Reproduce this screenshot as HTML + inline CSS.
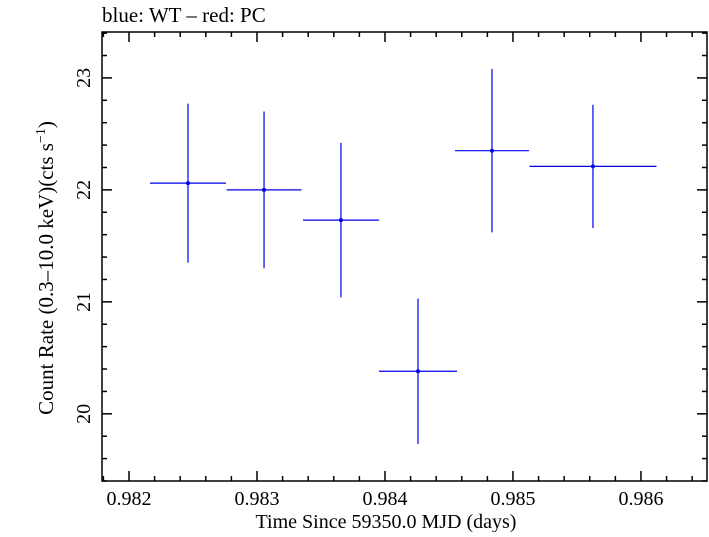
<!DOCTYPE html>
<html><head><meta charset="utf-8"><style>
body{margin:0;background:#fff;}
svg text{font-family:"Liberation Serif",serif;fill:#000;}
</style></head><body>
<svg id="c" width="709" height="532"></svg>
<script>
const times=[0.982461,0.983055,0.983656,0.984258,0.984836,0.985625];
const timeErr=[0.000297,0.000293,0.000297,0.000305,0.000289,0.000496];
const rates=[22.06,22.0,21.73,20.38,22.35,22.21];
const rateErr=[0.71,0.70,0.69,0.65,0.73,0.55];
const xTicks=["0.982","0.983","0.984","0.985","0.986"];
const yTicks=["20","21","22","23"];
const L=102,R=707,T=32,B=481;
const x0=0.981789,x1=0.986516,y0=19.40,y1=23.41;
const X=v=>L+(v-x0)/(x1-x0)*(R-L);
const Y=v=>B-(v-y0)/(y1-y0)*(B-T);
const s=document.getElementById('c');const NS='http://www.w3.org/2000/svg';
function el(t,a,p){const e=document.createElementNS(NS,t);for(const k in a)e.setAttribute(k,a[k]);(p||s).appendChild(e);return e;}
const fr=el('rect',{x:L,y:T,width:R-L,height:B-T,fill:'none',stroke:'#000','stroke-width':1.5});


for(let v=0.9818;v<=0.98652;v+=0.0002){const px=X(v);if(px<L||px>R)continue;
 const maj=Math.abs(Math.round(v*1000)-v*1000)<1e-6;const len=maj?10:5;
 const t1=el('line',{x1:px,x2:px,y1:B,y2:B-len,stroke:'#000','stroke-width':1.5});
 
 
 const t2=el('line',{x1:px,x2:px,y1:T,y2:T+len,stroke:'#000','stroke-width':1.5});
 
 }
xTicks.forEach(l=>{const t=el('text',{x:X(parseFloat(l)),y:505,'font-size':20,'text-anchor':'middle'});t.textContent=l;
 
 });
for(let v=19.4;v<=23.41;v+=0.2){const py=Y(v);if(py<T||py>B)continue;
 const maj=Math.abs(Math.round(v)-v)<1e-6;const len=maj?10:5;
 const t1=el('line',{x1:L,x2:L+len,y1:py,y2:py,stroke:'#000','stroke-width':1.5});
 
 
 const t2=el('line',{x1:R,x2:R-len,y1:py,y2:py,stroke:'#000','stroke-width':1.5});
 
 }
yTicks.forEach(l=>{const py=Y(parseFloat(l));const t=el('text',{x:90,y:py,'font-size':20,'text-anchor':'middle',transform:`rotate(-90 90 ${py})`});t.textContent=l;
 
 });
times.forEach((t,i)=>{
 const h=el('line',{x1:X(t-timeErr[i]),x2:X(t+timeErr[i]),y1:Y(rates[i]),y2:Y(rates[i]),stroke:'#0000ee','stroke-width':1.2});
 
 
 const v=el('line',{x1:X(t),x2:X(t),y1:Y(rates[i]-rateErr[i]),y2:Y(rates[i]+rateErr[i]),stroke:'#0000ee','stroke-width':1.2});
 
 
 const p=el('circle',{cx:X(t),cy:Y(rates[i]),r:2,fill:'#0000ee'});
 
 
});
const xt=el('text',{x:386,y:528,'font-size':20,'text-anchor':'middle'});xt.textContent='Time Since 59350.0 MJD (days)';


const yt=el('text',{x:53,y:268,'font-size':21,'text-anchor':'middle',transform:'rotate(-90 53 268)'});
yt.innerHTML='Count Rate (0.3–10.0 keV)(cts s<tspan dy="-8" font-size="14">−1</tspan><tspan dy="8">)</tspan>';


const tt=el('text',{x:102,y:22,'font-size':21});tt.textContent='blue: WT – red: PC';


</script>
</body></html>
